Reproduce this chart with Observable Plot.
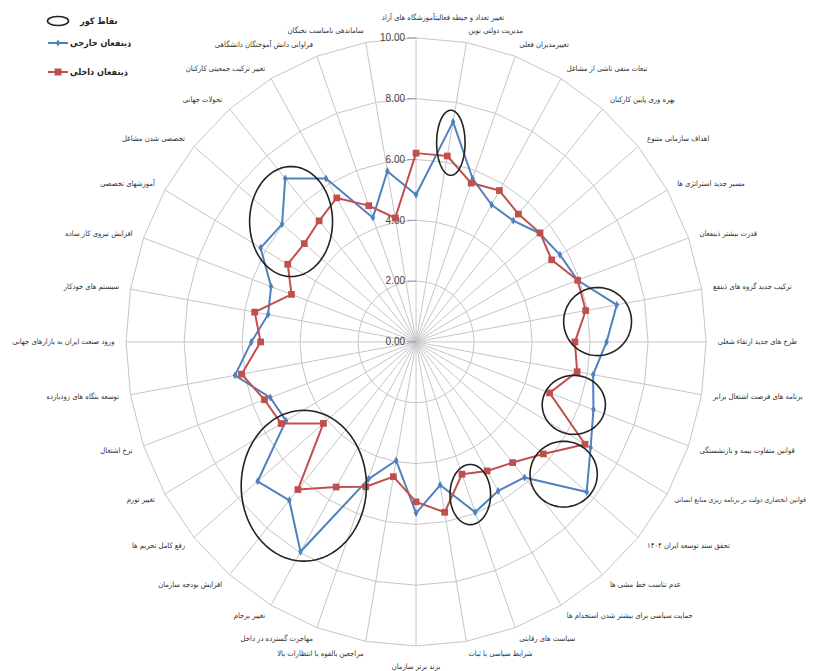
<!DOCTYPE html>
<html><head><meta charset="utf-8">
<script src="https://cdn.jsdelivr.net/npm/d3@7"></script>
<script src="https://cdn.jsdelivr.net/npm/@observablehq/plot@0.6"></script>
<style>
body{margin:0;background:#fff;overflow:hidden;}
#wrap{position:relative;width:814px;height:671px;}
.lg{position:absolute;height:16px;display:flex;align-items:center;white-space:nowrap;font-family:"DejaVu Sans Condensed","DejaVu Sans",sans-serif;font-size:9px;font-weight:bold;color:#222;}
.lg svg{display:block;}
</style></head><body>
<div id="wrap"><div id="chart"></div></div>
<script>
// --- data ---
const categories = [
  "تغییر تعداد و حیطه فعالیتآموزشگاه های آزاد",
  "مدیریت دولتی نوین",
  "تغییرمدیران فعلی",
  "تبعات منفی ناشی از مشاغل",
  "بهره وری پایین کارکنان",
  "اهداف سازمانی متنوع",
  "مسیر جدید استراتژی ها",
  "قدرت بیشتر ذینفعان",
  "ترکیب جدید گروه های ذینفع",
  "طرح های جدید ارتقاء شغلی",
  "برنامه های فرصت اشتغال برابر",
  "قوانین متفاوت بیمه و بازنشستگی",
  "قوانین انحصاری دولت بر برنامه ریزی منابع انسانی",
  "تحقق سند توسعه ایران ۱۴۰۴",
  "عدم تناسب خط مشی ها",
  "حمایت سیاسی برای بیشتر شدن استخدام ها",
  "سیاست های رقابتی",
  "شرایط سیاسی با ثبات",
  "برند برتر سازمان",
  "مراجعین بالقوه با انتظارات بالا",
  "مهاجرت گسترده در داخل",
  "تغییر برجام",
  "افزایش بودجه سازمان",
  "رفع کامل تحریم ها",
  "تغییر تورم",
  "نرخ اشتغال",
  "توسعه بنگاه های زودبازده",
  "ورود صنعت ایران به بازارهای جهانی",
  "سیستم های خودکار",
  "افزایش نیروی کار ساده",
  "آموزشهای تخصصی",
  "تخصصی شدن مشاغل",
  "تحولات جهانی",
  "تغییر ترکیب جمعیتی کارکنان",
  "فراوانی دانش آموختگان دانشگاهی",
  "ساماندهی نامناسب نخبگان"
];
const seriesNames = ["ذینفعان خارجی", "ذینفعان داخلی"];
const external = [4.84, 7.35, 5.71, 5.21, 5.21, 5.56, 5.73, 5.93, 7.03, 6.57, 6.20, 6.51, 6.95, 7.68, 5.82, 5.66, 5.96, 4.78, 5.63, 3.96, 4.80, 7.97, 6.80, 7.13, 5.18, 5.35, 6.34, 5.68, 5.18, 5.32, 6.19, 6.03, 7.02, 6.21, 4.35, 5.70];
const internal = [6.21, 6.21, 5.56, 5.75, 5.49, 5.58, 5.40, 5.93, 5.94, 5.48, 5.64, 4.90, 6.73, 5.73, 5.18, 4.90, 4.63, 5.69, 5.26, 4.50, 5.07, 5.51, 6.34, 4.17, 5.37, 5.56, 6.11, 5.36, 5.65, 4.57, 5.11, 5.03, 5.20, 5.47, 4.77, 4.14];
const ringValues = [2, 4, 6, 8, 10];
const tickValues = [0, 2, 4, 6, 8, 10];
const tickLabels = ["0.00", "2.00", "4.00", "6.00", "8.00", "10.00"];
const blindSpotLabel = "نقاط کور";
// blind-spot ellipses in value units (centre x/y, radii)
const blindCx = [-4.31, 1.20, 6.26, 5.44, 5.09, 1.87, -3.87];
const blindCy = [3.96, 6.55, 0.67, -2.07, -4.35, -5.02, -4.73];
const blindRx = [1.43, 0.49, 1.17, 1.09, 1.16, 0.70, 2.16];
const blindRy = [1.81, 1.07, 1.12, 0.97, 1.08, 0.99, 2.48];

// --- derived ---
const N = categories.length;
const idx = d3.range(N);
const ang = i => i * 2 * Math.PI / N;
const px = (r, i) => r * Math.sin(ang(i));
const py = (r, i) => r * Math.cos(ang(i));
const BLUE = "#4f81bd", RED = "#c0504d";
const rowsExt = idx.map(i => ({i, s: seriesNames[0], v: external[i]}));
const rowsInt = idx.map(i => ({i, s: seriesNames[1], v: internal[i]}));
const grid = ringValues.flatMap(r => idx.map(i => ({r, i})));
const ellPts = blindCx.flatMap((cx, k) => d3.range(96).map(j => {
  const t = j / 96 * 2 * Math.PI;
  return {k, x: cx + blindRx[k] * Math.cos(t), y: blindCy[k] + blindRy[k] * Math.sin(t)};
}));
const LR = 10.4;
const longIdx = 12;
const rightIdx = idx.filter(i => i > 0 && i < N / 2 && i !== longIdx);
const leftIdx = idx.filter(i => i > N / 2);
const labelStyle = {fontFamily: "DejaVu Sans Condensed, DejaVu Sans, sans-serif", fontSize: 7.6, fill: "#333"};

const chart = Plot.plot({
  width: 814, height: 671,
  marginTop: 0, marginRight: 0, marginBottom: 0, marginLeft: 0,
  style: {overflow: "visible", background: "transparent"},
  x: {domain: [-14.33, 13.74], axis: null},
  y: {domain: [-10.84, 11.23], axis: null},
  color: {domain: seriesNames, range: [BLUE, RED]},
  marks: [
    Plot.line(grid, {x: d => px(d.r, d.i), y: d => py(d.r, d.i), z: "r", curve: "linear-closed", stroke: "#c6c6c6", strokeWidth: 1}),
    Plot.link(idx, {x1: () => 0, y1: () => 0, x2: i => px(10, i), y2: i => py(10, i), stroke: "#c6c6c6", strokeWidth: 1}),
    Plot.link(tickValues, {x1: () => -0.3, x2: () => 0, y1: d => d, y2: d => d, stroke: "#999", strokeWidth: 1}),
    Plot.text(tickValues, {x: () => 0, y: d => d, text: (d, k) => tickLabels[k], textAnchor: "end", dx: -11, fontFamily: "Liberation Sans, Arial, sans-serif", fontSize: 10, fill: "#444"}),
    Plot.text(rightIdx, {x: i => px(LR, i), y: i => py(LR, i), text: i => categories[i], textAnchor: "start", ...labelStyle}),
    Plot.text([longIdx], {x: i => px(LR, i), y: i => py(LR, i), text: i => categories[i], textAnchor: "start", dx: -3, ...labelStyle, fontSize: 7.0}),
    Plot.text(leftIdx, {x: i => px(LR, i), y: i => py(LR, i), text: i => categories[i], textAnchor: "end", ...labelStyle}),
    Plot.text([0], {x: i => px(LR, i), y: i => py(LR, i), text: i => categories[i], textAnchor: "middle", dx: 27, dy: -8, ...labelStyle}),
    Plot.text([N / 2], {x: i => px(LR, i), y: i => py(LR, i), text: i => categories[i], textAnchor: "middle", dy: 8, ...labelStyle}),
    Plot.line(rowsExt, {x: d => px(d.v, d.i), y: d => py(d.v, d.i), stroke: "s", curve: "linear-closed", strokeWidth: 2}),
    Plot.dot(rowsExt, {x: d => px(d.v, d.i), y: d => py(d.v, d.i), fill: "s", symbol: "diamond", r: 2.4}),
    Plot.line(rowsInt, {x: d => px(d.v, d.i), y: d => py(d.v, d.i), stroke: "s", curve: "linear-closed", strokeWidth: 2}),
    Plot.dot(rowsInt, {x: d => px(d.v, d.i), y: d => py(d.v, d.i), fill: "s", symbol: "square", r: 3.8}),
    Plot.line(ellPts, {x: "x", y: "y", z: "k", curve: "linear-closed", stroke: "#222", strokeWidth: 1.6})
  ]
});
document.getElementById("chart").appendChild(chart);

// legend (overlay in the empty top-left corner)
const wrap = document.getElementById("wrap");
function addItem(top, iconLeft, textLeft, iconSvg, text) {
  const a = document.createElement("div");
  a.className = "lg"; a.style.top = (top - 8) + "px"; a.style.left = iconLeft + "px";
  a.innerHTML = iconSvg; wrap.appendChild(a);
  const b = document.createElement("div");
  b.className = "lg"; b.style.top = (top - 8) + "px"; b.style.left = textLeft + "px";
  b.textContent = text; wrap.appendChild(b);
}
addItem(21, 46, 80, '<svg width="24" height="16"><ellipse cx="12" cy="8" rx="10.5" ry="4.5" fill="none" stroke="#222" stroke-width="1.6"/></svg>', blindSpotLabel);
addItem(43, 47, 70, `<svg width="22" height="16"><line x1="1" y1="8" x2="21" y2="8" stroke="${BLUE}" stroke-width="2"/><path d="M11 4.5 L13.2 8 L11 11.5 L8.8 8 Z" fill="${BLUE}"/></svg>`, seriesNames[0]);
addItem(72, 47, 70, `<svg width="22" height="16"><line x1="1" y1="8" x2="21" y2="8" stroke="${RED}" stroke-width="2"/><rect x="7.5" y="4.5" width="7" height="7" fill="${RED}"/></svg>`, seriesNames[1]);
</script>
</body></html>
